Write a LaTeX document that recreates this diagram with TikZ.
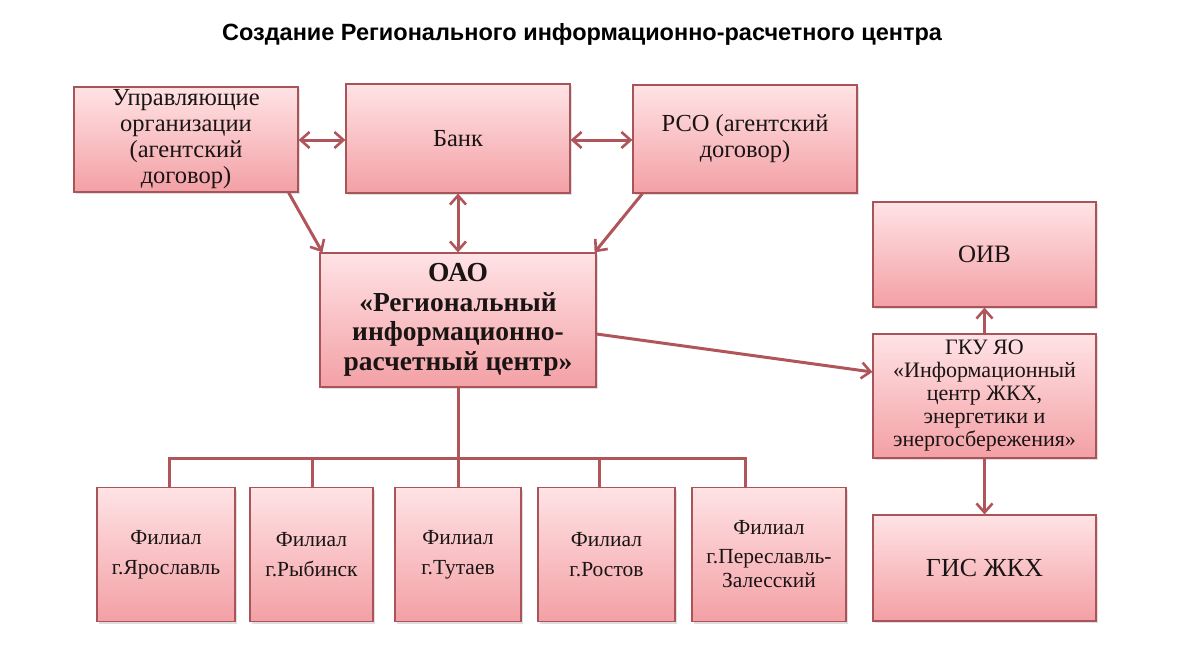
\documentclass[tikz,border=0pt]{standalone}
\usepackage{fontspec}
\setmainfont{Liberation Serif}
\newfontfamily\titlefont{Liberation Sans}
\usetikzlibrary{arrows.meta,shadows}
\definecolor{boxtop}{HTML}{FFE3E5}
\definecolor{boxbot}{HTML}{F3A0A5}
\definecolor{boxedge}{HTML}{A85458}
\definecolor{linkcol}{HTML}{B0565A}
\definecolor{txt}{HTML}{1A1414}
\tikzset{
  pbox/.style={draw=boxedge, line width=1.2pt, top color=boxtop, bottom color=boxbot,
    inner sep=0pt, align=center, text=txt,
    drop shadow={shadow xshift=2pt, shadow yshift=-2pt, opacity=0.25}},
  link/.style={draw=linkcol, line width=3pt},
  tip/.style={-{Straight Barb[length=9pt,width=16pt,line width=2.6pt]}},
  dtip/.style={{Straight Barb[length=9pt,width=16pt,line width=2.6pt]}-{Straight Barb[length=9pt,width=16pt,line width=2.6pt]}},
  norm/.style={font=\fontsize{24.5}{26}\selectfont},
  fil/.style={font=\fontsize{21.5}{24}\selectfont},
}
\begin{document}
\begin{tikzpicture}[x=1pt,y=-1pt]
\useasboundingbox[fill=white] (0,0) rectangle (1200,657);
\node[font=\titlefont\bfseries\fontsize{23.5}{26}\selectfont] (title) at (582,34) {Создание Регионального информационно-расчетного центра};

\node[pbox,norm,minimum width=224pt,minimum height=105pt] (uo) at (186,139.5) {Управляющие\\организации\\(агентский\\договор)};
\node[pbox,norm,minimum width=224pt,minimum height=109pt] (bank) at (458,138.5) {Банк};
\node[pbox,norm,minimum width=224pt,minimum height=108pt] (rso) at (745,139) {РСО (агентский\\договор)};
\node[pbox,font=\bfseries\fontsize{27.5}{29.5}\selectfont,minimum width=276pt,minimum height=134pt] (oao) at (458,320) {ОАО\\«Региональный\\информационно-\\расчетный центр»};
\node[pbox,font=\fontsize{25}{28}\selectfont,minimum width=223pt,minimum height=105pt] (oiv) at (984.5,254.5) {ОИВ};
\node[pbox,font=\fontsize{22}{23}\selectfont,minimum width=223pt,minimum height=124pt] (gku) at (984.5,396) {ГКУ ЯО\\«Информационный\\центр ЖКХ,\\энергетики и\\энергосбережения»};
\node[pbox,font=\fontsize{26}{30}\selectfont,minimum width=223pt,minimum height=106pt] (gis) at (984.5,568) {ГИС ЖКХ};

\node[pbox,fil,minimum width=138pt,minimum height=134pt] (f1) at (166,554.5) {Филиал\\[6pt]г.Ярославль};
\node[pbox,fil,minimum width=123pt,minimum height=134pt] (f2) at (311.5,554.5) {Филиал\\[6pt]г.Рыбинск};
\node[pbox,fil,minimum width=126pt,minimum height=134pt] (f3) at (458,554.5) {Филиал\\[6pt]г.Тутаев};
\node[pbox,fil,minimum width=137pt,minimum height=134pt] (f4) at (606.5,554.5) {Филиал\\[6pt]г.Ростов};
\node[pbox,fil,minimum width=154pt,minimum height=134pt] (f5) at (769,554.5) {Филиал\\[5pt]г.Переславль-\\Залесский};

% connectors
\draw[link,dtip] (uo.east |- 0,140) -- (bank.west |- 0,140);
\draw[link,dtip] (bank.east |- 0,140) -- (rso.west |- 0,140);
\draw[link,dtip] (bank.south) -- (oao.north);
\draw[link,tip] ([xshift=-10pt]uo.south east) -- ([xshift=3pt]oao.north west);
\draw[link,tip] ([xshift=10pt]rso.south west) -- ([xshift=-2pt]oao.north east);
\draw[link,tip] ([yshift=-14pt]oao.east) -- ([yshift=24pt]gku.west);
\draw[link,tip] (gku.north) -- (oiv.south);
\draw[link,tip] (gku.south) -- (gis.north);

\coordinate (hub) at (458,458);
\draw[link] (oao.south) -- (hub);
\draw[link] (f1.north -| 169,0) -- (169,458) -- (745,458) -- (f5.north -| 745,0);
\draw[link] (f2.north -| 312,0) -- (312,458);
\draw[link] (f3.north) -- (hub);
\draw[link] (f4.north -| 599,0) -- (599,458);
\end{tikzpicture}
\end{document}
